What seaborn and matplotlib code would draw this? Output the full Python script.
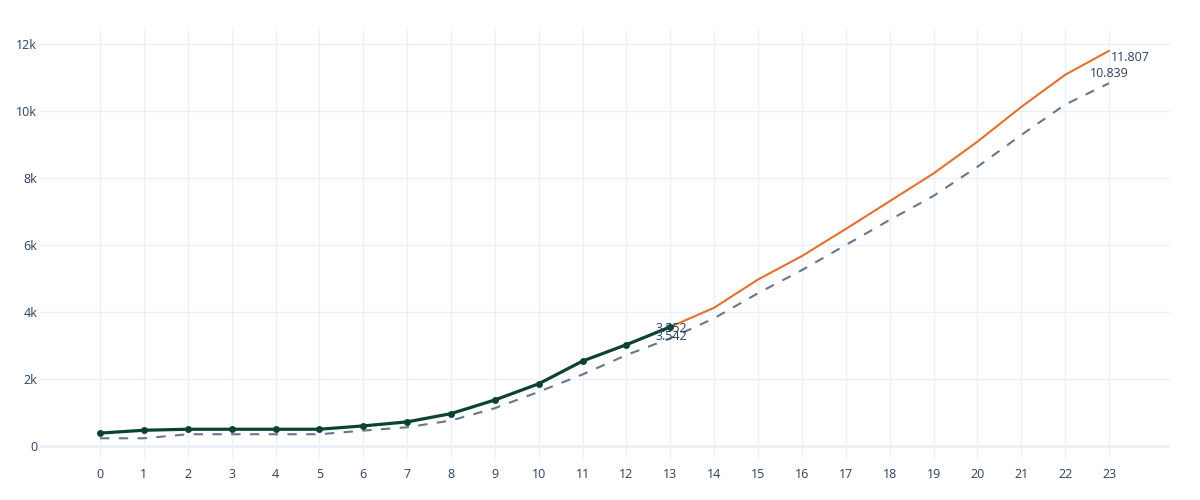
import numpy as np
import pandas as pd
import matplotlib
matplotlib.use("Agg")
import matplotlib.pyplot as plt
import seaborn as sns

# values
hours = list(range(24))
actual = [375, 460, 490, 490, 490, 490, 590, 710, 957, 1366, 1850, 2530, 3020, 3552]
forecast = [3552, 4126, 4970, 5670, 6480, 7310, 8140, 9090, 10130, 11090, 11807]
baseline = [220, 220, 340, 340, 340, 340, 450, 550, 750, 1120, 1610, 2130, 2710, 3210,
            3810, 4560, 5250, 6000, 6750, 7470, 8340, 9290, 10200, 10839]
ytick_vals = [0, 2000, 4000, 6000, 8000, 10000, 12000]
ytick_labels = ["0", "2k", "4k", "6k", "8k", "10k", "12k"]

actual_df = pd.DataFrame({"x": hours[:len(actual)], "y": actual})
forecast_df = pd.DataFrame({"x": hours[len(actual) - 1:], "y": forecast})
baseline_df = pd.DataFrame({"x": hours, "y": baseline})

sns.set_theme(style="white")
plt.rcParams["font.family"] = ["Open Sans", "DejaVu Sans"]

text_col = "#2a3f5f"
grid_col = "#ebf0f8"
green = "#0b4330"
orange = "#e2702f"
slate = "#67768e"

fig = plt.figure(figsize=(12, 5), dpi=100)
ax = fig.add_axes([40 / 1200, 42 / 500, 1130 / 1200, 428 / 500])

sns.lineplot(data=baseline_df, x="x", y="y", ax=ax, color=slate, lw=1.5,
             linestyle=(0, (4.5, 4.5)), zorder=2)
sns.lineplot(data=forecast_df, x="x", y="y", ax=ax, color=orange, lw=1.5, zorder=3)
sns.lineplot(data=actual_df, x="x", y="y", ax=ax, color=green, lw=2.3,
             marker="o", markersize=5, markeredgewidth=0, zorder=4)

# labels next to the ends of the lines
lab_kw = dict(textcoords="offset points", fontsize=9, color=text_col, zorder=5)
ax.annotate(f"{actual[-1] / 1000:.3f}", (hours[len(actual) - 1], actual[-1]),
            xytext=(0.5, -1), ha="center", va="center", **lab_kw)
ax.annotate(f"{3542 / 1000:.3f}", (hours[len(actual) - 1], baseline[len(actual) - 1]),
            xytext=(0.5, 1), ha="center", va="center", **lab_kw)
ax.annotate(f"{forecast[-1] / 1000:.3f}", (hours[-1], forecast[-1]),
            xytext=(1.5, -5), ha="left", va="center", **lab_kw)
ax.annotate(f"{baseline[-1] / 1000:.3f}", (hours[-1], baseline[-1]),
            xytext=(0.5, 7), ha="center", va="center", **lab_kw)

ax.set_xlim(-1.37, 24.39)
ax.set_ylim(-370, 12430)
ax.set_xticks(hours)
ax.set_xticklabels([str(h) for h in hours])
ax.set_yticks(ytick_vals)
ax.set_yticklabels(ytick_labels)
ax.set_xlabel("")
ax.set_ylabel("")
ax.grid(True, color=grid_col, lw=1)
ax.axhline(0, color=grid_col, lw=2, zorder=1)
ax.set_axisbelow(True)
for s in ax.spines.values():
    s.set_visible(False)
ax.tick_params(axis="both", length=0, labelsize=9, labelcolor=text_col)
ax.tick_params(axis="x", pad=7)
ax.tick_params(axis="y", pad=2)

fig.savefig("out.png", dpi=100)
